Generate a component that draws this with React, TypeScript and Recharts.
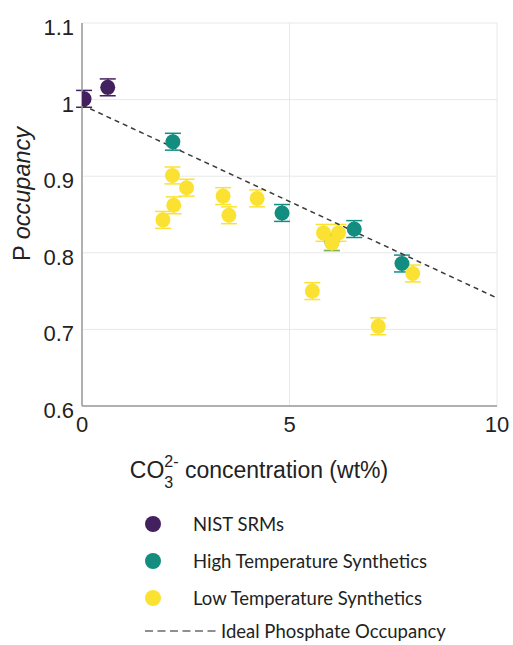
import React from 'react';
import {
  ComposedChart,
  Scatter,
  ErrorBar,
  XAxis,
  YAxis,
  CartesianGrid,
  ReferenceLine,
  Label,
} from 'recharts';

// CO3 wt% vs P occupancy, error = half-height of the bars
const nistSrms = [
  { x: 0.05, y: 1.001, err: 0.011 },
  { x: 0.62, y: 1.016, err: 0.011 },
];

const highTempSynthetics = [
  { x: 2.19, y: 0.945, err: 0.011 },
  { x: 4.82, y: 0.852, err: 0.011 },
  { x: 6.02, y: 0.814, err: 0.011 },
  { x: 6.56, y: 0.831, err: 0.011 },
  { x: 7.71, y: 0.786, err: 0.011 },
];

const lowTempSynthetics = [
  { x: 1.95, y: 0.843, err: 0.011 },
  { x: 2.18, y: 0.901, err: 0.011 },
  { x: 2.21, y: 0.862, err: 0.011 },
  { x: 2.52, y: 0.885, err: 0.011 },
  { x: 3.40, y: 0.874, err: 0.011 },
  { x: 3.54, y: 0.849, err: 0.011 },
  { x: 4.22, y: 0.871, err: 0.011 },
  { x: 5.55, y: 0.750, err: 0.011 },
  { x: 5.82, y: 0.826, err: 0.011 },
  { x: 6.02, y: 0.813, err: 0.011 },
  { x: 6.18, y: 0.826, err: 0.011 },
  { x: 7.14, y: 0.704, err: 0.011 },
  { x: 7.97, y: 0.773, err: 0.011 },
];

const idealLine = [
  { x: 0, y: 0.993 },
  { x: 10, y: 0.741 },
];

const xTicks = [0, 5, 10];
const yTicks = [0.6, 0.7, 0.8, 0.9, 1.0, 1.1];

const legendItems = [
  { name: 'NIST SRMs', color: '#43215f' },
  { name: 'High Temperature Synthetics', color: '#138d80' },
  { name: 'Low Temperature Synthetics', color: '#fbe232' },
];

const tickFont = "'Liberation Sans', Arial, sans-serif";

const Dot = (color: string) => (props: any) => {
  const { cx, cy } = props;
  if (cx == null || cy == null) return null;
  return <circle cx={cx} cy={cy} r={7.5} fill={color} stroke="none" />;
};

const YTick = (props: any) => {
  const { x, y, payload } = props;
  const v = payload.value;
  const label = Math.abs(v - 1) < 1e-9 ? '1' : v.toFixed(1);
  return (
    <text x={x} y={y} dy={12} textAnchor="end" fontSize={22} fill="#222" fontFamily={tickFont}>
      {label}
    </text>
  );
};

const XTick = (props: any) => {
  const { x, y, payload } = props;
  return (
    <text x={x} y={y} dy={18} textAnchor="middle" fontSize={22} fill="#222" fontFamily={tickFont}>
      {payload.value}
    </text>
  );
};

const XTitle = () => (
  <text x={259} y={478} textAnchor="middle" fontSize={23} fill="#222" fontFamily={tickFont}>
    CO
    <tspan fontSize={16} dy={10}>3</tspan>
    <tspan fontSize={16} dx={-9} dy={-21}>2-</tspan>
    <tspan fontSize={23} dy={11}> concentration (wt%)</tspan>
  </text>
);

const YTitle = () => (
  <text
    x={30}
    y={194}
    transform="rotate(-90, 30, 194)"
    textAnchor="middle"
    fontSize={23.5}
    fill="#222"
    fontFamily={tickFont}
  >
    P <tspan fontStyle="italic">occupancy</tspan>
  </text>
);

const legendText = {
  fontFamily: 'Lato, sans-serif',
  fontSize: 18.5,
  color: '#231f20',
  lineHeight: '22px',
};

export default function App() {
  return (
    <div style={{ position: 'absolute', left: 0, top: 0, width: 513, height: 645, background: '#fff', overflow: 'hidden' }}>
      <ComposedChart width={513} height={490} margin={{ top: 23, right: 16, bottom: 24, left: 0 }}>
        <CartesianGrid stroke="#e8e8e8" strokeWidth={1} />
        <XAxis
          type="number"
          dataKey="x"
          domain={[0, 10]}
          ticks={xTicks}
          height={60}
          axisLine={{ stroke: '#9a9a9a', strokeWidth: 1.5 }}
          tickLine={false}
          tick={<XTick />}
          allowDataOverflow
        >
          <Label content={<XTitle />} />
        </XAxis>
        <YAxis
          type="number"
          dataKey="y"
          domain={[0.6, 1.1]}
          ticks={yTicks}
          width={82}
          axisLine={{ stroke: '#9a9a9a', strokeWidth: 1.5 }}
          tickLine={false}
          tick={<YTick />}
          allowDataOverflow
        >
          <Label content={<YTitle />} />
        </YAxis>
        <Scatter data={nistSrms} dataKey="y" fill="#43215f" shape={Dot('#43215f')} isAnimationActive={false}>
          <ErrorBar dataKey="err" direction="y" width={8} stroke="#43215f" strokeWidth={1.5} />
        </Scatter>
        <Scatter data={highTempSynthetics} dataKey="y" fill="#138d80" shape={Dot('#138d80')} isAnimationActive={false}>
          <ErrorBar dataKey="err" direction="y" width={8} stroke="#138d80" strokeWidth={1.5} />
        </Scatter>
        <Scatter data={lowTempSynthetics} dataKey="y" fill="#fbe232" shape={Dot('#fbe232')} isAnimationActive={false}>
          <ErrorBar dataKey="err" direction="y" width={8} stroke="#fbe232" strokeWidth={1.5} />
        </Scatter>
        <ReferenceLine
          segment={idealLine}
          stroke="#3a3a3a"
          strokeWidth={1.5}
          strokeDasharray="5 4"
          ifOverflow="visible"
        />
      </ComposedChart>

      <div style={{ position: 'absolute', left: 0, top: 0, width: 513, height: 645, pointerEvents: 'none' }}>
        {legendItems.map((item, i) => (
          <div
            key={item.name}
            style={{
              position: 'absolute',
              left: 145,
              top: 513 + i * 37,
              height: 22,
              display: 'flex',
              alignItems: 'center',
              ...legendText,
            }}
          >
            <span
              style={{
                display: 'inline-block',
                width: 16,
                height: 16,
                borderRadius: '50%',
                background: item.color,
                marginRight: 32,
              }}
            />
            <span>{item.name}</span>
          </div>
        ))}
        <div
          style={{
            position: 'absolute',
            left: 145,
            top: 620,
            height: 22,
            display: 'flex',
            alignItems: 'center',
            ...legendText,
          }}
        >
          <svg width={73} height={4} style={{ marginRight: 3 }}>
            <line x1={0} y1={2} x2={73} y2={2} stroke="#231f20" strokeWidth={1.2} strokeDasharray="8 4.5" />
          </svg>
          <span>Ideal Phosphate Occupancy</span>
        </div>
      </div>
    </div>
  );
}
